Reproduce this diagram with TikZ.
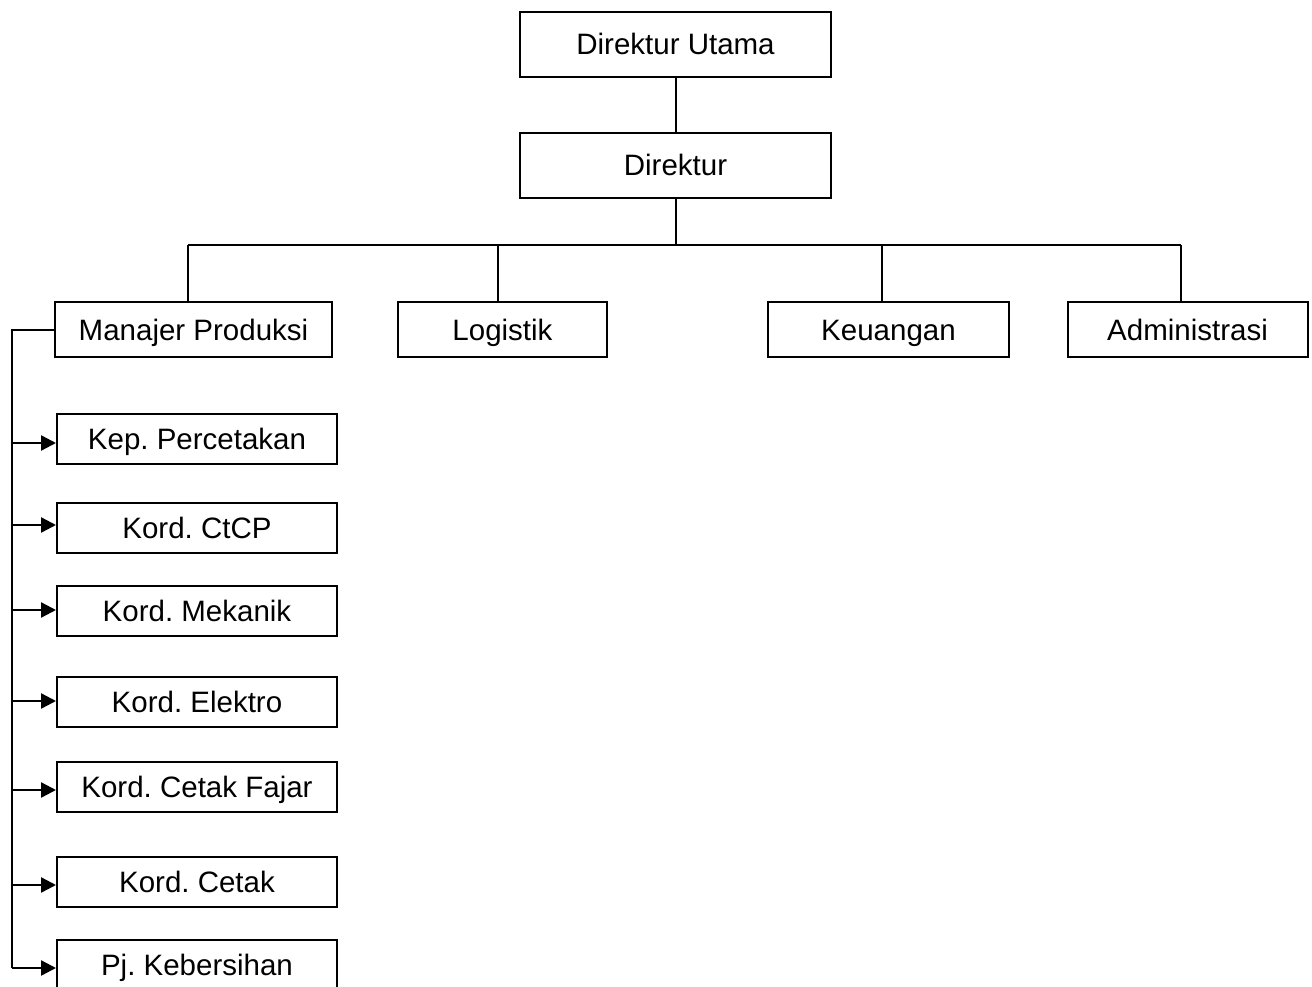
\documentclass[tikz,border=0pt]{standalone}
\usepackage{fontspec}
\setmainfont{Liberation Sans}
\usetikzlibrary{arrows.meta}
\begin{document}
\frenchspacing
\begin{tikzpicture}[x=1pt,y=-1pt,
  box/.style={draw,line width=2pt,inner sep=0pt,text height=21pt,text depth=0pt,
    font=\fontsize{29.5}{34}\selectfont},
  topbox/.style={box,minimum width=311pt,minimum height=65pt},
  midbox/.style={box,minimum height=55pt},
  subbox/.style={box,minimum width=280pt,minimum height=50pt},
  conn/.style={line width=2pt},
  arr/.style={line width=2.4pt,-{Triangle[length=15pt,width=15pt]}}]
\useasboundingbox (0,0) rectangle (1312,987);
\clip (0,0) rectangle (1312,987);
% top
\node[topbox] (du) at (675.5,44.5) {Direktur Utama};
\node[topbox] (dir) at (675.5,165.5) {Direktur};
% level 2
\node[midbox,minimum width=277pt] (mp) at (193.5,329.5) {Manajer Produksi};
\node[midbox,minimum width=209pt] (log) at (502.5,329.5) {Logistik};
\node[midbox,minimum width=241pt] (keu) at (888.5,329.5) {Keuangan};
\node[midbox,minimum width=240pt] (adm) at (1187.5,329.5) {Administrasi};
% bar
\coordinate (b1) at (188,245);
\coordinate (b2) at (498,245);
\coordinate (b3) at (882,245);
\coordinate (b4) at (1181,245);
\draw[conn] (du) -- (dir);
\draw[conn] (dir.south) -- (dir.south |- b1);
\draw[conn] (b1) -- (b4);
\draw[conn] (b1) -- (b1 |- mp.north);
\draw[conn] (b2) -- (b2 |- log.north);
\draw[conn] (b3) -- (b3 |- keu.north);
\draw[conn] (b4) -- (b4 |- adm.north);
% sub boxes
\node[subbox] (kep) at (197,438.5) {Kep. Percetakan};
\node[subbox] (ctcp) at (197,528) {Kord. CtCP};
\node[subbox] (mek) at (197,611) {Kord. Mekanik};
\node[subbox] (ele) at (197,701.5) {Kord. Elektro};
\node[subbox] (faj) at (197,786.5) {Kord. Cetak Fajar};
\node[subbox] (cet) at (197,881.5) {Kord. Cetak};
\node[subbox] (pj) at (197,965) {Pj. Kebersihan};
% spine
\coordinate (s0) at (12,329.5);
\coordinate (a1) at (12,443);
\coordinate (a2) at (12,525);
\coordinate (a3) at (12,610);
\coordinate (a4) at (12,701);
\coordinate (a5) at (12,790);
\coordinate (a6) at (12,885);
\coordinate (a7) at (12,968);
\draw[conn] (mp.west) -- (s0) -- (a7);
\draw[arr] (a1) -- (a1 -| kep.west);
\draw[arr] (a2) -- (a2 -| ctcp.west);
\draw[arr] (a3) -- (a3 -| mek.west);
\draw[arr] (a4) -- (a4 -| ele.west);
\draw[arr] (a5) -- (a5 -| faj.west);
\draw[arr] (a6) -- (a6 -| cet.west);
\draw[arr] (a7) -- (a7 -| pj.west);
\end{tikzpicture}
\end{document}
